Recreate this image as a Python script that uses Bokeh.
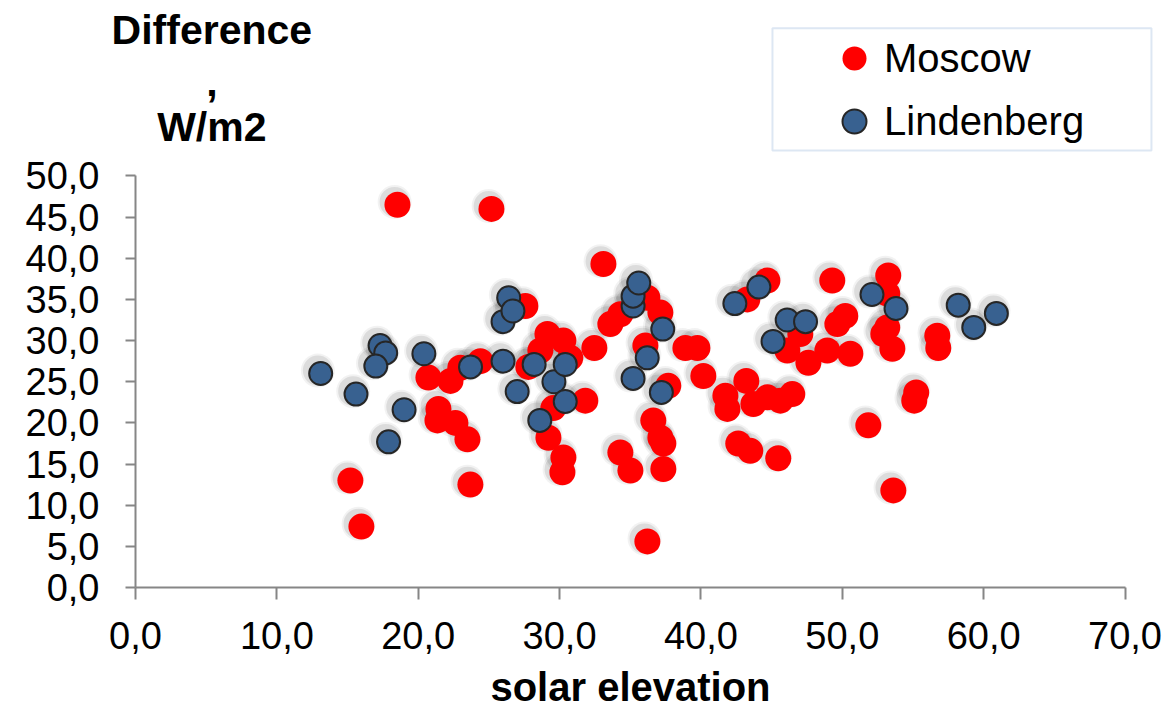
from bokeh.plotting import figure
from bokeh.models import (Legend, LegendItem, Label, FixedTicker, BoxAnnotation,
                          ColumnDataSource)
from bokeh.transform import dodge
from bokeh.embed import file_html
from bokeh.resources import INLINE

# ---- data ----
moscow_x = [15.98, 15.20, 18.53, 25.18, 23.69, 23.48, 20.72, 22.28, 22.98, 24.40,
            21.43, 21.36, 22.63, 27.58, 29.14, 30.27, 28.64, 27.79, 29.56, 29.21,
            30.27, 30.20, 30.76, 31.82, 32.46, 33.10, 33.59, 34.30, 36.21, 37.13,
            36.07, 34.30, 35.01, 36.21, 36.63, 37.13, 37.34, 37.34, 37.69, 38.90,
            39.75, 40.17, 41.73, 41.87, 43.21, 43.71, 44.70, 45.62, 46.46, 42.64,
            43.49, 45.47, 44.70, 43.28, 47.03, 46.11, 47.60, 48.94, 49.65, 50.21,
            49.29, 50.57, 51.84, 53.25, 53.18, 53.18, 52.90, 53.54, 56.72, 56.79,
            55.23, 55.09, 53.61]
moscow_y = [7.4, 13.0, 46.5, 46.0, 12.5, 18.0, 25.5, 25.1, 26.7, 27.5,
            21.7, 20.3, 20.0, 34.2, 30.8, 30.0, 28.8, 26.8, 21.8, 18.2,
            15.8, 14.0, 27.9, 22.7, 29.1, 39.3, 32.0, 33.2, 35.2, 33.4,
            29.4, 16.4, 14.2, 5.6, 20.3, 18.2, 17.5, 14.4, 24.5, 29.1,
            29.1, 25.7, 23.3, 21.7, 25.1, 22.3, 23.1, 22.7, 23.5, 17.5,
            16.6, 15.7, 37.3, 35.0, 30.8, 28.8, 27.3, 28.8, 32.0, 33.0,
            37.3, 28.4, 19.7, 37.9, 35.7, 31.6, 30.8, 29.0, 30.6, 29.1,
            23.7, 22.7, 11.8]

lindenberg_x = [13.1, 15.6, 17.3, 17.7, 17.0, 17.9, 19.0, 20.4, 23.7, 26.0,
                26.0, 26.4, 26.7, 27.0, 28.2, 28.6, 29.6, 30.4, 30.4, 35.2,
                35.2, 35.2, 35.6, 36.2, 37.2, 37.3, 42.4, 44.1, 45.1, 46.1,
                47.4, 52.1, 53.8, 58.2, 59.3, 60.9]
lindenberg_y = [26.0, 23.5, 29.4, 28.5, 26.9, 17.7, 21.6, 28.4, 26.8, 27.5,
                32.3, 35.2, 33.6, 23.8, 27.1, 20.3, 25.0, 27.1, 22.6, 25.4,
                34.2, 35.4, 37.0, 27.9, 23.7, 31.4, 34.5, 36.5, 29.9, 32.5,
                32.3, 35.6, 33.9, 34.3, 31.6, 33.3]

x_ticks = [0, 10, 20, 30, 40, 50, 60, 70]
x_tick_labels = ["0,0", "10,0", "20,0", "30,0", "40,0", "50,0", "60,0", "70,0"]
y_ticks = [0, 5, 10, 15, 20, 25, 30, 35, 40, 45, 50]
y_tick_labels = ["0,0", "5,0", "10,0", "15,0", "20,0", "25,0", "30,0", "35,0",
                 "40,0", "45,0", "50,0"]

series_names = ["Moscow", "Lindenberg"]
x_title = "solar elevation"
y_title_lines = ["Difference", ",", "W/m2"]

FONT = "Liberation Sans"

src_m = ColumnDataSource(dict(x=moscow_x, y=moscow_y))
src_l = ColumnDataSource(dict(x=lindenberg_x, y=lindenberg_y))

# The frame fills the whole canvas; the axes sit at data 0 and are bounded
# to the value range, so titles and the legend can live above the data area.
p = figure(width=1169, height=710,
           x_range=(-9.55, 73.147), y_range=(-14.945, 71.32),
           output_backend="svg", toolbar_location=None,
           min_border=0, min_border_left=0, min_border_right=0,
           min_border_top=0, min_border_bottom=0)
p.background_fill_color = "white"
p.border_fill_color = "white"
p.outline_line_color = None
p.grid.visible = False

# soft drop shadows (offset up-left, like the original)
for src in (src_m, src_l):
    for sz, al in ((34, 0.05), (30, 0.09)):
        p.scatter(x=dodge("x", -0.2, range=p.x_range),
                  y=dodge("y", 0.35, range=p.y_range),
                  source=src, size=sz, fill_color="black", fill_alpha=al,
                  line_color=None)

r_m = p.scatter("x", "y", source=src_m, size=26, fill_color="#FF0000",
                line_color=None)
r_l = p.scatter("x", "y", source=src_l, size=23, fill_color="#386190",
                line_color="#262626", line_width=2)

for ax in (p.xaxis[0], p.yaxis[0]):
    ax.fixed_location = 0
    ax.axis_line_color = "#868686"
    ax.axis_line_width = 2
    ax.major_tick_line_color = "#868686"
    ax.major_tick_line_width = 2
    ax.minor_tick_line_color = None
    ax.major_tick_in = 0
    ax.major_label_text_font = FONT
    ax.major_label_text_font_size = "38px"
    ax.major_label_text_color = "black"

p.xaxis.bounds = (0, 70)
p.yaxis.bounds = (0, 50)
p.xaxis.major_tick_out = 12
p.yaxis.major_tick_out = 10
p.xaxis.ticker = FixedTicker(ticks=x_ticks)
p.yaxis.ticker = FixedTicker(ticks=y_ticks)
p.xaxis.major_label_overrides = dict(zip(x_ticks, x_tick_labels))
p.yaxis.major_label_overrides = dict(zip(y_ticks, y_tick_labels))
p.xaxis.major_label_standoff = 23
p.yaxis.major_label_standoff = 26

p.xaxis.axis_label = x_title
p.xaxis.axis_label_text_font = FONT
p.xaxis.axis_label_text_font_style = "bold"
p.xaxis.axis_label_text_font_size = "40px"
p.xaxis.axis_label_text_color = "black"
p.xaxis.axis_label_standoff = 12

# y title, stacked above the axis
title_y = [67.7, 61.4, 56.0]
for txt, yy in zip(y_title_lines, title_y):
    p.add_layout(Label(x=5.4, y=yy, text=txt, text_align="center",
                       text_baseline="alphabetic", text_font=FONT,
                       text_font_style="bold", text_font_size="41px",
                       text_color="black"))

# legend frame
p.add_layout(BoxAnnotation(left=45.06, right=71.87, bottom=53.1, top=67.96,
                           fill_color="white", fill_alpha=1.0,
                           line_color="#8DAFD8", line_width=2))

legend = Legend(items=[LegendItem(label=series_names[0], renderers=[r_m]),
                       LegendItem(label=series_names[1], renderers=[r_l])],
                location=(824, 559), orientation="vertical",
                padding=0, margin=0, spacing=3,
                glyph_width=60, glyph_height=60,
                label_standoff=0,
                border_line_color=None,
                background_fill_alpha=0.0,
                label_text_font=FONT, label_text_font_size="40px",
                label_text_color="black")
p.add_layout(legend)

open("out.html", "w").write(file_html(p, INLINE))
